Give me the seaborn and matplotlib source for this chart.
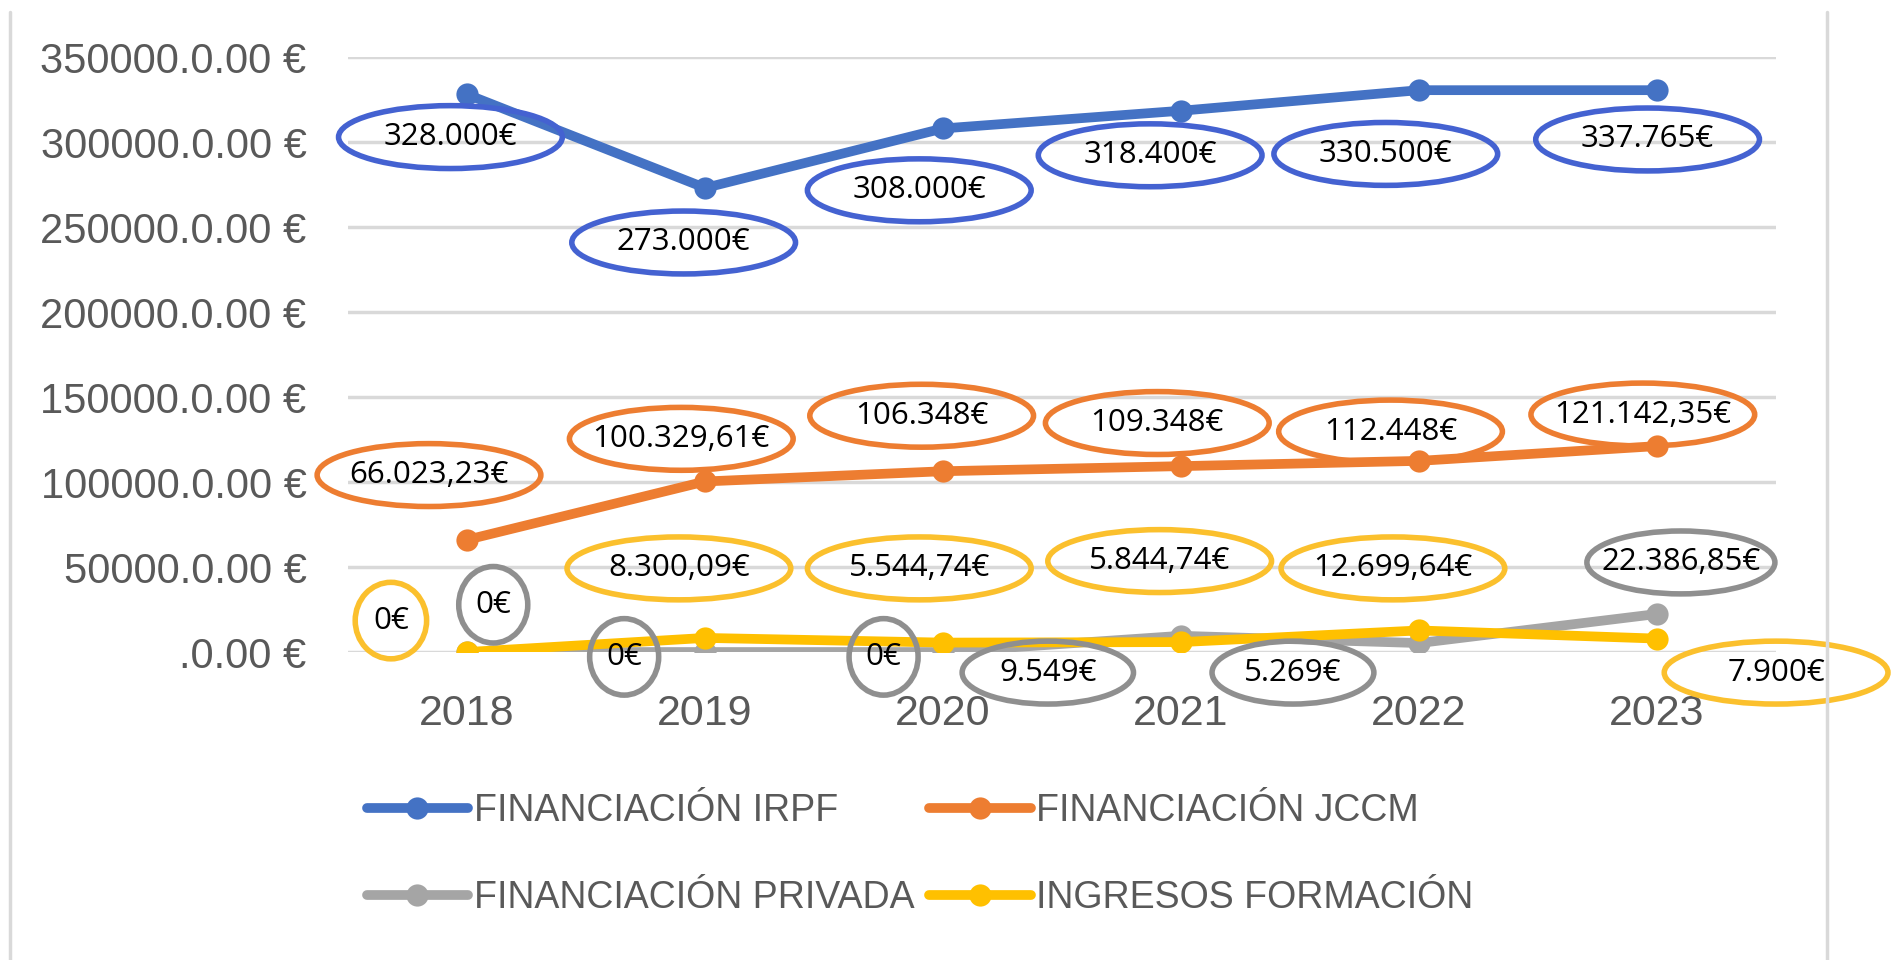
import pandas as pd
import seaborn as sns
import matplotlib.pyplot as plt
from matplotlib.patches import Ellipse
from matplotlib.lines import Line2D

# Data
years = ['2018', '2019', '2020', '2021', '2022', '2023']
series_names = ['FINANCIACIÓN IRPF', 'FINANCIACIÓN JCCM',
                'FINANCIACIÓN PRIVADA', 'INGRESOS FORMACIÓN']
irpf = [328000, 273000, 308000, 318400, 330500, 330500]
jccm = [66023.23, 100329.61, 106348, 109348, 112448, 121142.35]
privada = [0, 0, 0, 9549, 5269, 22386.85]
formacion = [0, 8300.09, 5544.74, 5844.74, 12699.64, 7900]

irpf_labels = ['328.000€', '273.000€', '308.000€', '318.400€', '330.500€', '337.765€']
jccm_labels = ['66.023,23€', '100.329,61€', '106.348€', '109.348€', '112.448€', '121.142,35€']
privada_labels = ['0€', '0€', '0€', '9.549€', '5.269€', '22.386,85€']
formacion_labels = ['0€', '8.300,09€', '5.544,74€', '5.844,74€', '12.699,64€', '7.900€']

yticks = [0, 50000, 100000, 150000, 200000, 250000, 300000, 350000]
ytick_labels = ['.0.00 €'] + [f'{v}.0.0' + '0 €' for v in yticks[1:]]

colors = ['#4472C4', '#ED7D31', '#A5A5A5', '#FFC000']
ring_colors = ['#4462D1', '#ED7D31', '#8F8F8F', '#FBC02D']

# label placement (x in category units, y in data units) and ellipse widths
irpf_pos = [(-0.07, 302900), (0.91, 240900), (1.90, 271600),
            (2.87, 292200), (3.86, 293000), (4.96, 301500)]
jccm_pos = [(-0.16, 104100), (0.90, 125400), (1.91, 139000),
            (2.90, 134700), (3.88, 129700), (4.94, 139700)]
privada_pos = [(0.11, 27800), (0.66, -2850), (1.75, -2850),
               (2.44, -12100), (3.47, -12100), (5.10, 52700)]
formacion_pos = [(-0.32, 18500), (0.89, 49200), (1.90, 49200),
                 (2.91, 53500), (3.89, 49200), (5.50, -12100)]
irpf_w = [0.94] * 6
jccm_w = [0.94] * 6
privada_w = [0.29, 0.29, 0.29, 0.72, 0.68, 0.79]
formacion_w = [0.30, 0.94, 0.94, 0.94, 0.94, 0.94]

label_font = ['Open Sans', 'DejaVu Sans']
axis_font = ['Liberation Sans Narrow', 'Liberation Sans', 'DejaVu Sans']

df = pd.DataFrame({
    'Año': years * 4,
    'Serie': [n for n in series_names for _ in years],
    'Valor': irpf + jccm + privada + formacion,
})

sns.set_style('white')
plt.rcParams['font.family'] = axis_font

fig = plt.figure(figsize=(19.01, 9.6), dpi=100)
ax = fig.add_axes([0.1831, 0.3208, 0.7512, 0.6198])

sns.lineplot(data=df, x='Año', y='Valor', hue='Serie', hue_order=series_names,
             palette=colors, marker='o', markersize=16, markeredgewidth=0,
             linewidth=7, sort=False, ax=ax, legend=False, zorder=3)

ax.set_ylim(0, 350000)
ax.set_xlim(-0.5, 5.5)
ax.set_yticks(yticks)
ax.set_yticklabels(ytick_labels)
ax.set_xlabel('')
ax.set_ylabel('')
ax.yaxis.grid(True, color='#D9D9D9', linewidth=2.5, zorder=0)
ax.xaxis.grid(False)
for s in ax.spines.values():
    s.set_visible(False)
ax.tick_params(axis='y', length=0, pad=30, labelsize=30, labelcolor='#595959')
ax.tick_params(axis='x', length=0, pad=30, labelsize=31, labelcolor='#595959')

groups = [
    (irpf_labels, irpf_pos, irpf_w, ring_colors[0]),
    (jccm_labels, jccm_pos, jccm_w, ring_colors[1]),
    (privada_labels, privada_pos, privada_w, ring_colors[2]),
    (formacion_labels, formacion_pos, formacion_w, ring_colors[3]),
]
for labels, pos, widths, rc in groups:
    for lab, (px, py), w in zip(labels, pos, widths):
        h = 37000 if w > 0.5 else 45000
        e = Ellipse((px, py), w, h, facecolor='none', edgecolor=rc,
                    linewidth=4, clip_on=False, zorder=5)
        ax.add_patch(e)
        ax.text(px, py, lab, ha='center', va='center', fontsize=22.5,
                family=label_font, color='black', clip_on=False, zorder=6)

# legend filled column by column, so order gives rows IRPF/JCCM and PRIVADA/FORMACION
handles = [Line2D([0], [0], color=c, linewidth=7, marker='o', markersize=16,
                  markeredgewidth=0) for c in colors]
order = [0, 2, 1, 3]
fig.legend([handles[i] for i in order], [series_names[i] for i in order],
           loc='center', bbox_to_anchor=(0.484, 0.11),
           ncol=2, frameon=False, fontsize=27, labelcolor='#595959',
           handlelength=2.7, handletextpad=0.15, columnspacing=0.4,
           labelspacing=1.35)

# outer chart frame lines
fig.add_artist(Line2D([0.0053, 0.0053], [0, 0.987], color='#D9D9D9', linewidth=2.5))
fig.add_artist(Line2D([0.961, 0.961], [0, 0.987], color='#D9D9D9', linewidth=2.5))

fig.savefig('out.png', dpi=100, facecolor='white')
